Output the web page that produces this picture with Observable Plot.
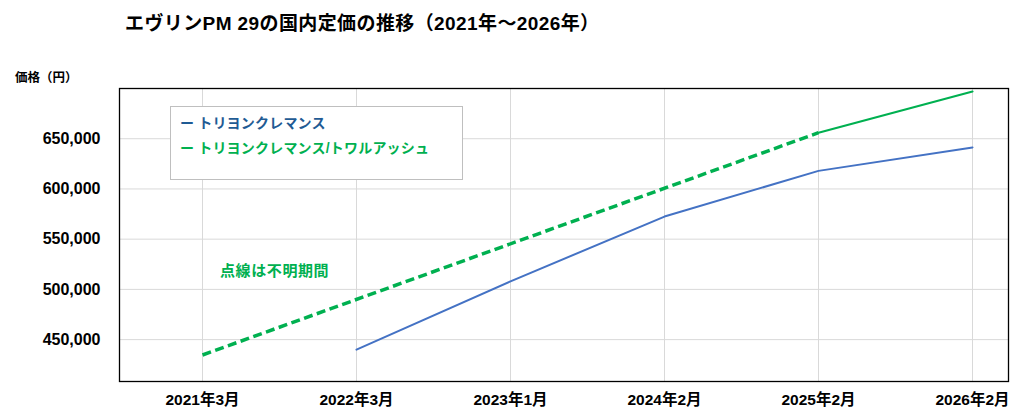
<!DOCTYPE html>
<html>
<head>
<meta charset="utf-8">
<script src="https://cdn.jsdelivr.net/npm/d3@7"></script>
<script src="https://cdn.jsdelivr.net/npm/@observablehq/plot@0.6"></script>
<style>
  html, body { margin: 0; padding: 0; background: #fff; }
  body { font-family: "Liberation Sans", "Noto Sans CJK JP", sans-serif; }
  #wrap { position: relative; width: 1022px; height: 418px; overflow: hidden; }
  #chart { position: absolute; left: 0; top: 0; }
  #chart svg text { font-weight: bold; }
  .title { position: absolute; left: 125px; top: 8px; font-size: 19px; font-weight: bold; color: #000; white-space: nowrap; letter-spacing: 0.4px; }
  .ylabel { position: absolute; left: 15px; top: 67px; font-size: 12.5px; font-weight: bold; color: #000; white-space: nowrap; }
  .legend { position: absolute; left: 170px; top: 106px; width: 293px; height: 74px; border: 1.5px solid #bfbfbf; background: #fff; box-sizing: border-box; }
  .legend div { position: absolute; left: 9px; font-size: 14px; font-weight: bold; letter-spacing: 0.2px; white-space: nowrap; }
  .legend .dash { margin-right: 4px; }
  .note { position: absolute; left: 220px; top: 259px; font-size: 15px; font-weight: bold; color: #00b050; letter-spacing: 0.6px; white-space: nowrap; }
</style>
</head>
<body>
<div id="wrap">
  <div id="chart"></div>
  <div class="title">エヴリンPM 29の国内定価の推移（2021年～2026年）</div>
  <div class="ylabel">価格（円）</div>
  <div class="legend">
    <div id="lg1" style="top:5px;"><span class="dash">ー</span><span class="name"></span></div>
    <div id="lg2" style="top:30px;"><span class="dash">ー</span><span class="name"></span></div>
  </div>
  <div class="note">点線は不明期間</div>
</div>
<script>
// categories (x axis tick labels)
const periods = ["2021年3月", "2022年3月", "2023年1月", "2024年2月", "2025年2月", "2026年2月"];
// series values (yen); null = no data
const seriesBlueName = "トリヨンクレマンス";
const seriesBlue = [null, 440000, 508000, 572500, 618000, 641300];
const seriesGreenName = "トリヨンクレマンス/トワルアッシュ";
const seriesGreen = [434700, null, null, null, 656000, 697000];
// period from which prices are known (before: dotted = unknown)
const knownFrom = "2025年2月";
// y tick values
const yTicks = [450000, 500000, 550000, 600000, 650000];

const blueColor = "#4472c4";
const greenColor = "#00b050";

const blueRows = periods.map((p, i) => ({period: p, price: seriesBlue[i]})).filter(d => d.price != null);
const greenRows = periods.map((p, i) => ({period: p, idx: i, price: seriesGreen[i]})).filter(d => d.price != null);
const knownIdx = periods.indexOf(knownFrom);
const greenDashed = greenRows.filter(d => d.idx <= knownIdx);
const greenSolid = greenRows.filter(d => d.idx >= knownIdx);

const lg1 = document.getElementById("lg1");
lg1.querySelector(".name").textContent = seriesBlueName;
lg1.style.color = "#1f5b94";
const lg2 = document.getElementById("lg2");
lg2.querySelector(".name").textContent = seriesGreenName;
lg2.style.color = greenColor;

const fmt = d3.format(",");

const chart = Plot.plot({
  width: 1022,
  height: 418,
  marginTop: 88,
  marginBottom: 37,
  marginLeft: 119,
  marginRight: 14,
  style: {fontFamily: "'Liberation Sans', 'Noto Sans CJK JP', sans-serif", color: "#000", background: "#fff"},
  x: {type: "point", domain: periods, range: [201, 972], padding: 0},
  y: {domain: [408300, 700000]},
  marks: [
    Plot.gridY(yTicks, {stroke: "#d9d9d9", strokeOpacity: 1, strokeWidth: 1}),
    Plot.gridX(periods, {stroke: "#d9d9d9", strokeOpacity: 1, strokeWidth: 1}),
    Plot.frame({stroke: "#000", strokeWidth: 1.3}),
    Plot.axisY(yTicks, {tickFormat: fmt, tickSize: 0, tickPadding: 19, fontSize: 16, label: null}),
    Plot.axisX(periods, {tickSize: 0, tickPadding: 12, fontSize: 15.5, label: null}),
    Plot.line(blueRows, {x: "period", y: "price", stroke: blueColor, strokeWidth: 2}),
    Plot.line(greenDashed, {x: "period", y: "price", stroke: greenColor, strokeWidth: 3.5, strokeDasharray: "9,4.5", strokeLinecap: "butt"}),
    Plot.line(greenSolid, {x: "period", y: "price", stroke: greenColor, strokeWidth: 2.2})
  ]
});
document.getElementById("chart").appendChild(chart);
</script>
</body>
</html>
